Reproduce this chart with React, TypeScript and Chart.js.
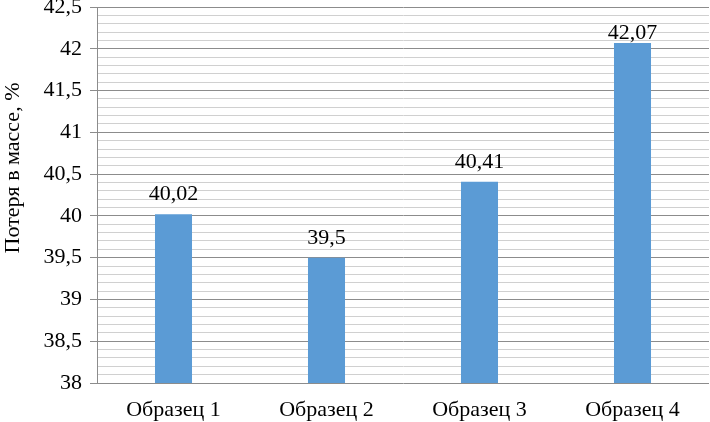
import React, { useEffect, useRef } from "react";
import { Chart, registerables } from "chart.js";

Chart.register(...registerables);

const categories = ["Образец 1", "Образец 2", "Образец 3", "Образец 4"];
const lossValues = [40.02, 39.5, 40.41, 42.07];
const valueLabels = ["40,02", "39,5", "40,41", "42,07"];
const majorTickValues = [38, 38.5, 39, 39.5, 40, 40.5, 41, 41.5, 42, 42.5];
const majorTickLabels = ["38", "38,5", "39", "39,5", "40", "40,5", "41", "41,5", "42", "42,5"];
const yTitle = "Потеря в массе, %";

const FONT = "Liberation Serif";

const majorIndex = (v: number) =>
  majorTickValues.findIndex((m) => Math.abs(m - v) < 1e-6);

const dataLabelPlugin = {
  id: "dataLabels",
  afterDatasetsDraw(chart: any) {
    const ctx = chart.ctx;
    const meta = chart.getDatasetMeta(0);
    ctx.save();
    ctx.font = `22px "${FONT}"`;
    ctx.fillStyle = "#000";
    ctx.textAlign = "center";
    ctx.textBaseline = "alphabetic";
    meta.data.forEach((bar: any, i: number) => {
      const y = Math.max(bar.y - 14, chart.chartArea.top + 32);
      ctx.fillText(valueLabels[i], bar.x, y);
    });
    ctx.restore();
  },
};

const yTitlePlugin = {
  id: "yTitle",
  afterDraw(chart: any) {
    const ctx = chart.ctx;
    ctx.save();
    ctx.translate(13, 168);
    ctx.rotate(-Math.PI / 2);
    ctx.font = `22px "${FONT}"`;
    ctx.fillStyle = "#000";
    ctx.textAlign = "center";
    ctx.textBaseline = "middle";
    ctx.fillText(yTitle, 0, 0);
    ctx.restore();
  },
};

export default function App() {
  const ref = useRef<HTMLCanvasElement>(null);
  useEffect(() => {
    document.body.style.margin = "0";
    const chart = new Chart(ref.current!, {
      type: "bar",
      data: {
        labels: categories,
        datasets: [
          {
            data: lossValues,
            backgroundColor: "#5b9bd5",
            barPercentage: 0.242,
            categoryPercentage: 1,
          },
        ],
      },
      options: {
        responsive: false,
        animation: false,
        font: { family: `"${FONT}"` },
        layout: { padding: { top: 7, right: 1, left: 0, bottom: 0 } },
        plugins: { legend: { display: false }, tooltip: { enabled: false } },
        scales: {
          x: {
            grid: { display: false, drawTicks: false },
            border: { display: false },
            ticks: {
              color: "#000",
              font: { family: `"${FONT}"`, size: 22 },
              padding: 14,
              maxRotation: 0,
            },
            afterFit: (s: any) => {
              s.height = 39;
            },
          },
          y: {
            min: 38,
            max: 42.5,
            border: { display: true, color: "#8c8c8c", width: 1 },
            grid: {
              color: (c: any) => (majorIndex(c.tick?.value) >= 0 ? "#8c8c8c" : "#d0d0d0"),
              tickColor: (c: any) =>
                majorIndex(c.tick?.value) >= 0 ? "#8c8c8c" : "rgba(0,0,0,0)",
              tickLength: 7,
              lineWidth: 1,
            },
            ticks: {
              stepSize: 0.1,
              autoSkip: false,
              color: "#000",
              font: { family: `"${FONT}"`, size: 22 },
              padding: 8,
              callback: (v: any) => {
                const i = majorIndex(Number(v));
                return i >= 0 ? majorTickLabels[i] : "";
              },
            },
            title: { display: false },
            afterFit: (s: any) => {
              s.width = 97;
              s.paddingTop = 0;
              s.paddingBottom = 0;
            },
          },
        },
      },
      plugins: [dataLabelPlugin, yTitlePlugin],
    });
    return () => chart.destroy();
  }, []);
  return <canvas ref={ref} width={710} height={422} style={{ display: "block" }} />;
}
